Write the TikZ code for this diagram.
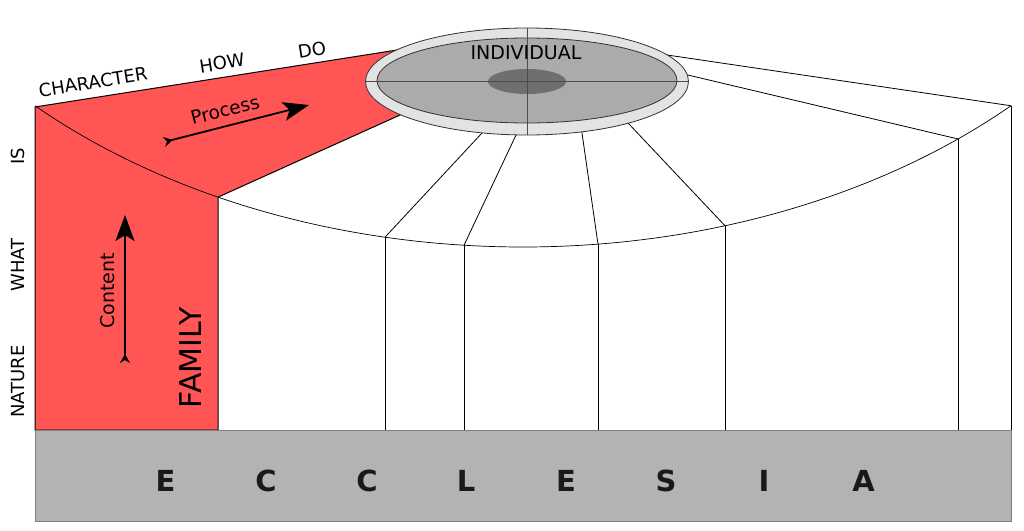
\documentclass[tikz,border=0pt]{standalone}
\usepackage{fontspec}
\setmainfont{DejaVu Sans}
\usetikzlibrary{arrows.meta,calc}
\definecolor{redfill}{HTML}{FF5555}
\definecolor{barfill}{HTML}{B3B3B3}
\definecolor{barline}{HTML}{7F7F7F}
\definecolor{ringfill}{HTML}{E3E3E3}
\definecolor{discfill}{HTML}{ABABAB}
\definecolor{corefill}{HTML}{6F6F6F}
\begin{document}
\begin{tikzpicture}[x=1pt,y=-1pt,
  declare function={arcy(\t)=-252+499*sqrt(1-((\t-523)/700)^2);},
  edge/.style={draw=black,line width=0.8pt},
  redshape/.style={fill=redfill,draw=black,line width=1pt},
  lbl/.style={inner sep=0pt,font=\fontsize{18}{20}\selectfont},
  biglbl/.style={inner sep=0pt,font=\fontsize{30}{32}\selectfont},
  barlbl/.style={inner sep=0pt,font=\bfseries\fontsize{29}{31}\selectfont,text=black!90},
  flowarrow/.style={line width=1.8pt,arrows={Stealth[reversed,length=9pt,width=10pt,inset=3pt]-Stealth[length=26pt,width=19pt,inset=6pt]}},
  crossline/.style={draw=black!70,line width=0.6pt}]
\useasboundingbox (0,0) rectangle (1024,530);
\fill[white] (0,0) rectangle (1024,530);

% red family/process region
\fill[redshape] (35,107) -- (420,46.4) -- (420,106) -- (218,{arcy(218)}) -- (218,430) -- (35,430) -- cycle;

% spokes from the individual
\coordinate (b1) at (385,{arcy(385)});
\coordinate (b2) at (464,{arcy(464)});
\coordinate (b3) at (598,{arcy(598)});
\coordinate (b4) at (725,{arcy(725)});
\coordinate (b5) at (958,{arcy(958)});
\coordinate (b6) at (1011,{arcy(1011)});
\coordinate (t1) at (491.7,122.6);
\coordinate (t2) at (521.2,124);
\coordinate (t3) at (580.4,122);
\coordinate (t4) at (618.3,112.7);
\coordinate (t5) at (670,70.8);
\coordinate (t6) at (640,51);
\foreach \i in {1,...,6} {\draw[edge] (t\i) -- (b\i);}
\foreach \i in {1,...,6} {\draw[edge] (b\i) -- (b\i |- 0,430);}

% curved level line
\draw[edge,line width=0.7pt] plot[domain=35:1011,samples=120] (\x,{arcy(\x)});

% ecclesia bar
\draw[fill=barfill,draw=barline,line width=1pt] (35,430) rectangle (1011,521);
\foreach \ch/\xx [count=\k] in {E/165.5,C/266,C/367,L/466,E/566,S/666,I/764,A/863.5}
  \node[barlbl] (ecc\k) at (\xx,481) {\ch};

% individual disc
\draw[fill=ringfill,draw=black!80,line width=0.8pt] (527,81.5) ellipse [x radius=161.5,y radius=53.5];
\draw[fill=discfill,draw=black!80,line width=0.8pt] (527,80.5) ellipse [x radius=150,y radius=42.5];
\fill[corefill] (527,81.5) ellipse [x radius=39,y radius=12.5];
\draw[crossline] (365.5,81.5) -- (688.5,81.5);
\draw[crossline] (527,28) -- (527,135);
\node[lbl,font=\fontsize{19}{21}\selectfont] (indiv) at (526,53) {INDIVIDUAL};

% labels along top edge
\node[lbl,rotate=9] (character) at (93,82) {CHARACTER};
\node[lbl,rotate=9] (how) at (222,63) {HOW};
\node[lbl,rotate=9] (do) at (312,50) {DO};

% labels along left edge
\node[lbl,rotate=90] (is) at (18,156) {IS};
\node[lbl,rotate=90] (what) at (18,265) {WHAT};
\node[lbl,rotate=90] (nature) at (18,381.5) {NATURE};

% family
\node[biglbl,rotate=90] (family) at (191,358) {FAMILY};

% process arrow
\coordinate (pstart) at (164,142);
\coordinate (pend) at (309,105);
\draw[flowarrow] (pstart) -- (pend);
\node[lbl,font=\fontsize{18.5}{20}\selectfont,rotate=14] (process) at (225,110) {Process};

% content arrow
\coordinate (cstart) at (125,363);
\coordinate (cend) at (125,215);
\draw[flowarrow] (cstart) -- (cend);
\node[lbl,font=\fontsize{19}{21}\selectfont,rotate=90] (content) at (108,291) {Content};
\end{tikzpicture}
\end{document}
